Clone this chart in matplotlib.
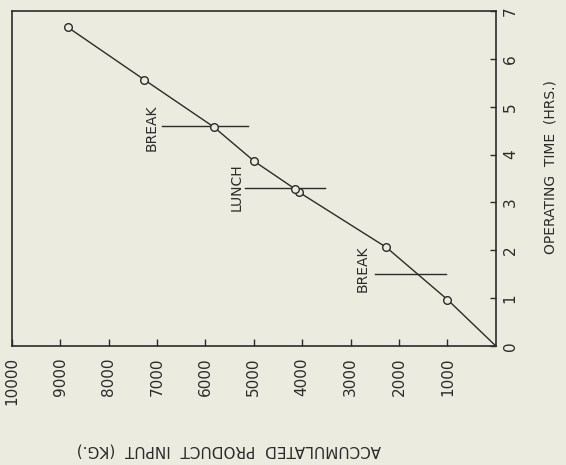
import matplotlib.pyplot as plt

# accumulated product input vs operating time
product_kg = [0, 1000, 2260, 4060, 4160, 4990, 5830, 7270, 8840]
time_hrs = [0, 0.97, 2.06, 3.21, 3.29, 3.86, 4.58, 5.57, 6.66]

# rest periods: (label, time, kg from, kg to, label kg, label time)
pauses = [
    ("BREAK", 4.59, 6900, 5130, 7120, 4.57),
    ("LUNCH", 3.30, 5180, 3520, 5360, 3.32),
    ("BREAK", 1.50, 2490, 1020, 2750, 1.61),
]

kg_ticks = list(range(1000, 10001, 1000))
hr_ticks = list(range(0, 8))

paper = "#ebebdf"
ink = "#2b2b2b"

fig = plt.figure(figsize=(5.66, 4.65), dpi=100, facecolor=paper)
ax = fig.add_axes([0.021, 0.256, 0.855, 0.72], facecolor=paper)

ax.plot(product_kg, time_hrs, color=ink, linewidth=1.0, zorder=2)
ax.plot(product_kg[1:], time_hrs[1:], linestyle="none", marker="o",
        markersize=5.5, markerfacecolor=paper, markeredgecolor=ink,
        markeredgewidth=1.0, zorder=3)

for name, t, k0, k1, lx, ly in pauses:
    ax.plot([k0, k1], [t, t], color=ink, linewidth=1.0, zorder=1)
    ax.text(lx, ly, name, rotation=90, ha="center", va="center",
            fontsize=10, color=ink)

ax.set_xlim(10000, 0)
ax.set_ylim(0, 7)

ax.set_xticks(kg_ticks)
ax.set_xticklabels([str(k) for k in kg_ticks], rotation=90, fontsize=11,
                   color=ink)
ax.tick_params(axis="x", direction="in", length=5, width=1.0, pad=8,
               colors=ink)

ax.yaxis.tick_right()
ax.set_yticks(hr_ticks)
ax.set_yticklabels([str(h) for h in hr_ticks], rotation=90, fontsize=11,
                   color=ink, va="center")
ax.tick_params(axis="y", direction="in", length=4, width=1.0, pad=5,
               colors=ink)

for side in ax.spines.values():
    side.set_color(ink)
    side.set_linewidth(1.2)

fig.text(0.405, 0.032, "ACCUMULATED  PRODUCT  INPUT  (KG.)", rotation=180,
         ha="center", va="center", fontsize=11, color=ink)
fig.text(0.972, 0.64, "OPERATING  TIME  (HRS.)", rotation=90,
         ha="center", va="center", fontsize=10, color=ink)

fig.savefig("out.png", dpi=100, facecolor=paper)
